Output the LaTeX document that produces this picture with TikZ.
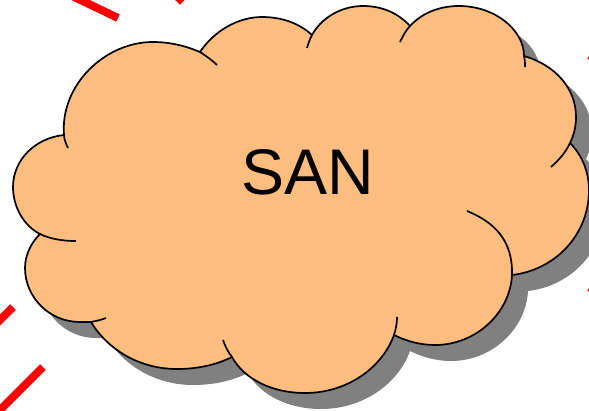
\documentclass[tikz,border=0pt]{standalone}
\usepackage{fontspec}
\setmainfont{Liberation Sans}
\definecolor{sanorange}{RGB}{255,190,128}
\definecolor{sanshadow}{RGB}{128,128,128}
\newcommand{\sancloud}{(64,135) .. controls (60,85) and (105,42) .. (153,42)
  .. controls (170,42) and (186,46) .. (200,52)
  .. controls (214,31) and (238,17) .. (262,17) .. controls (283,17) and (300,24) .. (312,35)
  .. controls (322,17) and (342,6) .. (363,6) .. controls (382,6) and (398,13) .. (410,26)
  .. controls (421,14) and (438,6) .. (459,6) .. controls (495,6) and (524,30) .. (524,56)
  .. controls (555,65) and (576,88) .. (576,117) .. controls (576,126) and (574,135) .. (570,143)
  .. controls (582,155) and (589,172) .. (589,190) .. controls (589,235) and (555,270) .. (512,275)
  .. controls (510,313) and (476,345) .. (435,345) .. controls (420,345) and (406,341) .. (394,335)
  .. controls (382,368) and (347,393) .. (305,393) .. controls (272,393) and (244,379) .. (232,357)
  .. controls (216,365) and (197,369) .. (177,369) .. controls (140,369) and (108,350) .. (91,322)
  .. controls (87,322) and (84,322) .. (80,322) .. controls (49,322) and (25,297) .. (25,268)
  .. controls (25,255) and (31,243) .. (40,234)
  .. controls (24,226) and (13,207) .. (13,187) .. controls (13,160) and (35,138) .. (64,135) -- cycle}
\begin{document}
\begin{tikzpicture}[
    x=1pt,y=-1pt,
    wire/.style={red,line width=8pt},
    edge/.style={black,line width=1.7pt}
  ]
    \clip (0,0) rectangle (589,410);
    % red links behind the cloud
    \draw[wire] (66,-7) -- (118,18);
    \draw[wire] (177,2) -- (187,-8);
    \draw[wire] (-6,326) -- (13,307);
    \draw[wire] (-5,415) -- (43,367);
    \draw[wire,line width=5pt] (589,60) -- (595,54);
    \draw[wire,line width=5pt] (589,292) -- (595,286);
    % shadow and body
    \fill[sanshadow,shift={(16,16)}] \sancloud;
    \fill[sanorange] \sancloud;
    \draw[edge] \sancloud;
    % inner ends of the lobes
    \draw[edge] (64,135) .. controls (64,139) and (66,144) .. (68,148);
    \draw[edge] (200,52) .. controls (206,56) and (212,60) .. (217,65);
    \draw[edge] (312,35) .. controls (310,39) and (308,44) .. (307,48);
    \draw[edge] (410,26) .. controls (406,30) and (403,36) .. (400,42);
    \draw[edge] (524,56) .. controls (525,60) and (525,64) .. (525,67);
    \draw[edge] (570,143) .. controls (566,152) and (559,160) .. (551,167);
    \draw[edge] (512,275) .. controls (513,240) and (494,222) .. (467,211);
    \draw[edge] (394,335) .. controls (396,329) and (397,323) .. (397,317);
    \draw[edge] (232,357) .. controls (228,352) and (225,346) .. (223,340);
    \draw[edge] (91,322) .. controls (96,321) and (101,320) .. (106,318);
    \draw[edge] (40,234) .. controls (50,239) and (63,241) .. (76,241);
    \node[font=\fontsize{64.5}{64.5}\selectfont,inner sep=0pt] (san) at (308,172) {SAN};
  \end{tikzpicture}
\end{document}
